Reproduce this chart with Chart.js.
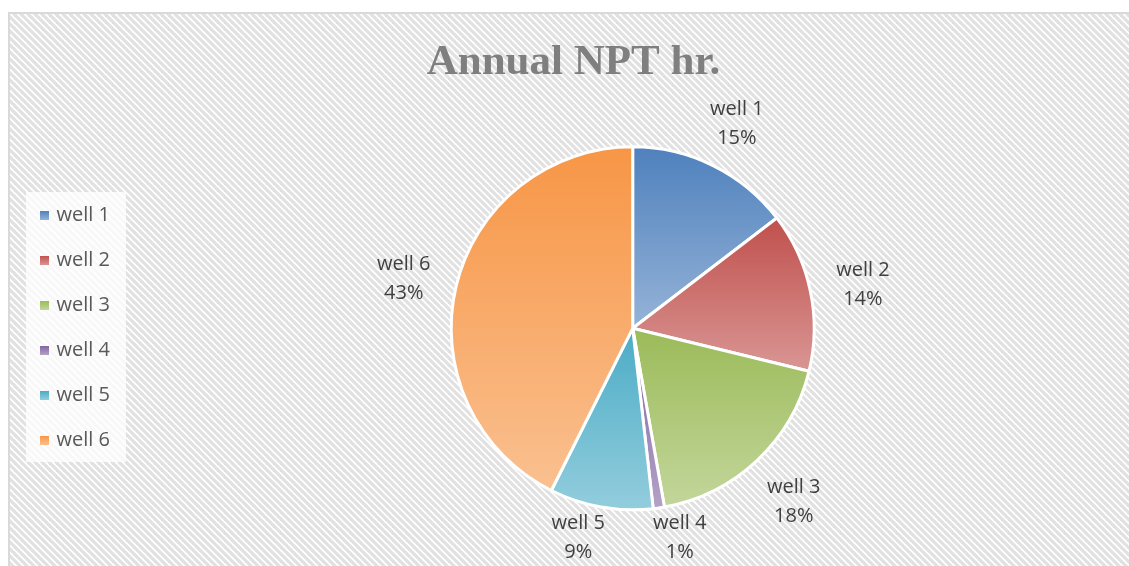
<!DOCTYPE html>
<html>
<head>
<meta charset="utf-8">
<script src="https://cdn.jsdelivr.net/npm/chart.js@4.4.1/dist/chart.umd.min.js"></script>
<style>
  html, body { margin: 0; padding: 0; background: #fff; overflow: hidden; }
  canvas { display: block; }
</style>
</head>
<body>
<canvas id="npt-chart" width="1129" height="566"></canvas>
<script>
// Annual NPT hours per well
const wells = ['well 1', 'well 2', 'well 3', 'well 4', 'well 5', 'well 6'];
const nptHours = [146, 142, 184, 10, 92, 426];
const topColors = ['#4f81bd', '#c0504d', '#9bbb59', '#8064a2', '#4bacc6', '#f79646'];
const bottomColors = ['#95b3d7', '#d99694', '#c3d69b', '#b3a2c7', '#93cddd', '#fac090'];

const TITLE = 'Annual NPT hr.';
const TEXT_FONT = '20px "Open Sans", "Liberation Sans", sans-serif';
const TITLE_FONT = 'bold 43px "Liberation Serif", "DejaVu Serif", serif';
const LEGEND_COLOR = '#595959';
const LABEL_COLOR = '#404040';
const BORDER_W = 3;

function stripePattern(ctx) {
  const p = 7;
  const tile = document.createElement('canvas');
  tile.width = p;
  tile.height = p;
  const t = tile.getContext('2d');
  t.fillStyle = '#ffffff';
  t.fillRect(0, 0, p, p);
  t.strokeStyle = '#e1e1e1';
  t.lineWidth = 3.2;
  for (let k = -1; k <= 1; k++) {
    t.beginPath();
    t.moveTo(k * p - p, -p);
    t.lineTo(k * p + 2 * p, 2 * p);
    t.stroke();
  }
  return ctx.createPattern(tile, 'repeat');
}

// vertical gradient over the bounding box of each slice, dark on top
function sliceFill(context) {
  const chart = context.chart;
  const i = context.dataIndex;
  const area = chart.chartArea;
  if (!area || i === undefined) return topColors[i] || topColors[0];
  const cy = (area.top + area.bottom) / 2;
  const r = (Math.min(area.right - area.left, area.bottom - area.top) - BORDER_W) / 2;
  const total = nptHours.reduce((a, b) => a + b, 0);
  const before = nptHours.slice(0, i).reduce((a, b) => a + b, 0);
  const start = -Math.PI / 2 + before / total * 2 * Math.PI;
  const end = start + nptHours[i] / total * 2 * Math.PI;
  const ys = [cy, cy + Math.sin(start) * r, cy + Math.sin(end) * r];
  for (const a of [-Math.PI / 2, Math.PI / 2, 3 * Math.PI / 2]) {
    if (a > start && a < end) ys.push(cy + Math.sin(a) * r);
  }
  const top = Math.min(...ys);
  const bottom = Math.max(...ys);
  const g = chart.ctx.createLinearGradient(0, top, 0, bottom + 0.01);
  g.addColorStop(0, topColors[i]);
  g.addColorStop(1, bottomColors[i]);
  return g;
}

const backdrop = {
  id: 'backdrop',
  beforeDraw(chart) {
    const ctx = chart.ctx;
    const W = chart.width, H = chart.height;
    ctx.save();
    ctx.fillStyle = '#ffffff';
    ctx.fillRect(0, 0, W, H);
    ctx.fillStyle = stripePattern(ctx);
    ctx.fillRect(10, 14, W - 10, H - 14);
    ctx.strokeStyle = '#d9d9d9';
    ctx.lineWidth = 2;
    ctx.beginPath();
    ctx.moveTo(9, H + 2);
    ctx.lineTo(9, 13);
    ctx.lineTo(W + 2, 13);
    ctx.stroke();

    // title
    ctx.font = TITLE_FONT;
    ctx.fillStyle = '#7f7f7f';
    ctx.textAlign = 'center';
    ctx.textBaseline = 'alphabetic';
    ctx.fillText(TITLE, 573.5, 73.5);

    // legend
    ctx.fillStyle = 'rgba(255,255,255,0.75)';
    ctx.fillRect(26, 192, 100, 270);
    ctx.font = TEXT_FONT;
    ctx.textAlign = 'left';
    ctx.textBaseline = 'middle';
    wells.forEach((name, i) => {
      const cy = 215.5 + i * 45;
      const g = ctx.createLinearGradient(0, cy - 4.5, 0, cy + 4.5);
      g.addColorStop(0, topColors[i]);
      g.addColorStop(1, bottomColors[i]);
      ctx.fillStyle = g;
      ctx.fillRect(40, cy - 4.5, 9, 9);
      ctx.fillStyle = LEGEND_COLOR;
      ctx.fillText(name, 56.5, cy);
    });
    ctx.restore();
  }
};

const sliceLabels = {
  id: 'sliceLabels',
  afterDatasetsDraw(chart) {
    const ctx = chart.ctx;
    const meta = chart.getDatasetMeta(0);
    const total = nptHours.reduce((a, b) => a + b, 0);
    const lineGap = 29;
    const h = 48;
    ctx.save();
    ctx.font = TEXT_FONT;
    const boxes = meta.data.map((arc, i) => {
      const lines = [wells[i], Math.round(nptHours[i] / total * 100) + '%'];
      const w = Math.max(...lines.map(t => ctx.measureText(t).width));
      const mid = (arc.startAngle + arc.endAngle) / 2;
      const dist = arc.outerRadius + 27;
      const x = arc.x + Math.cos(mid) * (dist + w / 2);
      let y = arc.y + Math.sin(mid) * dist + Math.sin(mid) * h / 2 + 4;
      y = Math.min(y, chart.height - 4 - h / 2);
      return { x, y, w, lines };
    });
    // spread labels that crowd each other
    for (let pass = 0; pass < 6; pass++) {
      for (let a = 0; a < boxes.length; a++) {
        for (let b = a + 1; b < boxes.length; b++) {
          const A = boxes[a], B = boxes[b];
          if (Math.abs(A.y - B.y) >= h) continue;
          const need = (A.w + B.w) / 2 + 48;
          const gap = Math.abs(A.x - B.x);
          if (gap < need) {
            const push = (need - gap) / 2;
            const dir = A.x < B.x ? -1 : 1;
            A.x += dir * push;
            B.x -= dir * push;
          }
        }
      }
    }
    ctx.fillStyle = LABEL_COLOR;
    ctx.textAlign = 'center';
    ctx.textBaseline = 'middle';
    boxes.forEach(bx => {
      ctx.fillText(bx.lines[0], bx.x, bx.y - lineGap / 2);
      ctx.fillText(bx.lines[1], bx.x, bx.y + lineGap / 2);
    });
    ctx.restore();
  }
};

const chart = new Chart(document.getElementById('npt-chart').getContext('2d'), {
  type: 'pie',
  data: {
    labels: wells,
    datasets: [{
      data: nptHours,
      backgroundColor: sliceFill,
      borderColor: '#ffffff',
      borderWidth: BORDER_W,
      hoverOffset: 0,
    }]
  },
  options: {
    responsive: false,
    animation: false,
    layout: {
      padding: { left: 449.7, top: 145.3, right: 313.3, bottom: 54.7 }
    },
    plugins: {
      legend: { display: false },
      title: { display: false },
      tooltip: { enabled: false }
    }
  },
  plugins: [backdrop, sliceLabels]
});
</script>
</body>
</html>
